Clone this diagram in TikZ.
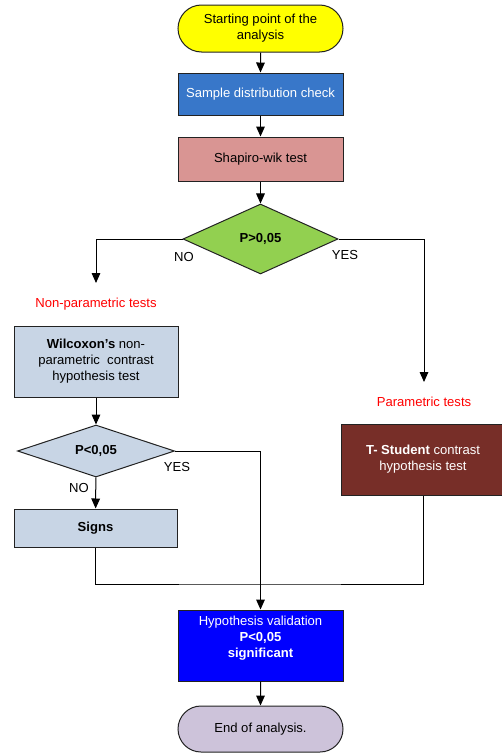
\documentclass[tikz,border=0pt]{standalone}
\usepackage{fontspec}
\setmainfont{Liberation Sans}
\usetikzlibrary{shapes.geometric,shapes.misc,arrows.meta}
\definecolor{startyellow}{HTML}{FFFF00}
\definecolor{sampleblue}{HTML}{3877C9}
\definecolor{shapink}{HTML}{D99593}
\definecolor{decgreen}{HTML}{92D050}
\definecolor{steelbox}{HTML}{C8D5E5}
\definecolor{tbrown}{HTML}{772E28}
\definecolor{hypblue}{HTML}{0000FF}
\definecolor{endlav}{HTML}{CDC3DA}
\definecolor{edgegray}{HTML}{222222}
\begin{document}
\begin{tikzpicture}[x=0.75pt,y=-0.75pt,
  txt/.style={inner sep=0pt, align=center, font=\fontsize{9.8}{12}\selectfont},
  base/.style={txt, draw=edgegray, line width=0.75pt},
  boxw/.style={base, rectangle, minimum width=123.75pt},
  term/.style={base, rounded rectangle, minimum width=123.75pt},
  decision/.style={base, diamond, aspect=2.2},
  redtxt/.style={txt, text=red},
  conn/.style={line width=0.75pt, draw=black},
  arr/.style={conn, -{Triangle[length=7.5pt,width=6.5pt]}}
]
\useasboundingbox (0,0) rectangle (501,753);

% nodes
\node[term, fill=startyellow, minimum height=35.25pt] (start) at (260.5,28.5)
  {Starting point of the\\analysis};
\node[boxw, fill=sampleblue, text=white, minimum height=31.5pt] (sample) at (260.5,94)
  {Sample distribution check};
\node[boxw, fill=shapink, minimum height=33pt] (shapiro) at (260.5,159)
  {Shapiro-wik test};
\node[decision, fill=decgreen, minimum width=116.25pt, minimum height=52.5pt, font=\fontsize{9.8}{12}\selectfont\bfseries] (d1) at (260.5,239)
  {P>0,05};
\node[txt] (no1) at (184,257) {NO};
\node[txt] (yes1) at (345,255) {YES};

\node[redtxt] (nonpar) at (96,304) {Non-parametric tests};
\node[redtxt] (par) at (424,402) {Parametric tests};

\node[boxw, fill=steelbox, minimum width=123pt, minimum height=53.25pt] (wilc) at (96,361.5)
  {\textbf{Wilcoxon{\char"0027}s} non-\\parametric\ \ contrast\\hypothesis test};
\node[decision, fill=steelbox, minimum width=117.75pt, minimum height=39pt, font=\fontsize{9.8}{12}\selectfont\bfseries] (d2) at (96,451)
  {P<0,05};
\node[txt] (yes2) at (177,467) {YES};
\node[txt] (no2) at (79,488) {NO};
\node[boxw, fill=steelbox, minimum width=122.25pt, minimum height=28.5pt, font=\fontsize{9.8}{12}\selectfont\bfseries] (signs) at (95.5,528)
  {Signs};

\node[boxw, fill=tbrown, text=white, minimum width=123pt, minimum height=53.25pt] (tstud) at (423,459.5)
  {\textbf{T- Student} contrast\\hypothesis test};

\node[boxw, fill=hypblue, minimum height=53.25pt] (hyp) at (260.5,645.5) {};
\node[txt, text=white] (hyptext) at (260.5,638)
  {Hypothesis validation\\\textbf{P<0,05}\\\textbf{significant}};
\node[term, fill=endlav, minimum height=34.5pt] (endn) at (260.5,729)
  {End of analysis.};

% connectors
\coordinate (nonparTip) at (96,283);
\coordinate (parTip) at (424,382);
\coordinate (merge) at (260.5,584);
\draw[arr] (start) -- (sample);
\draw[arr] (sample) -- (shapiro);
\draw[arr] (shapiro) -- (d1);
\draw[arr] (d1.west) -| (nonparTip);
\draw[arr] (d1.east) -| (parTip);
\draw[arr] (wilc) -- (d2);
\draw[arr] (d2) -- (signs);
\draw[arr] (d2.east) -| (hyp.north);
\draw[conn] (signs.south) |- (merge) -| (tstud.south);
\draw[arr] (hyp) -- (endn);
\end{tikzpicture}
\end{document}
